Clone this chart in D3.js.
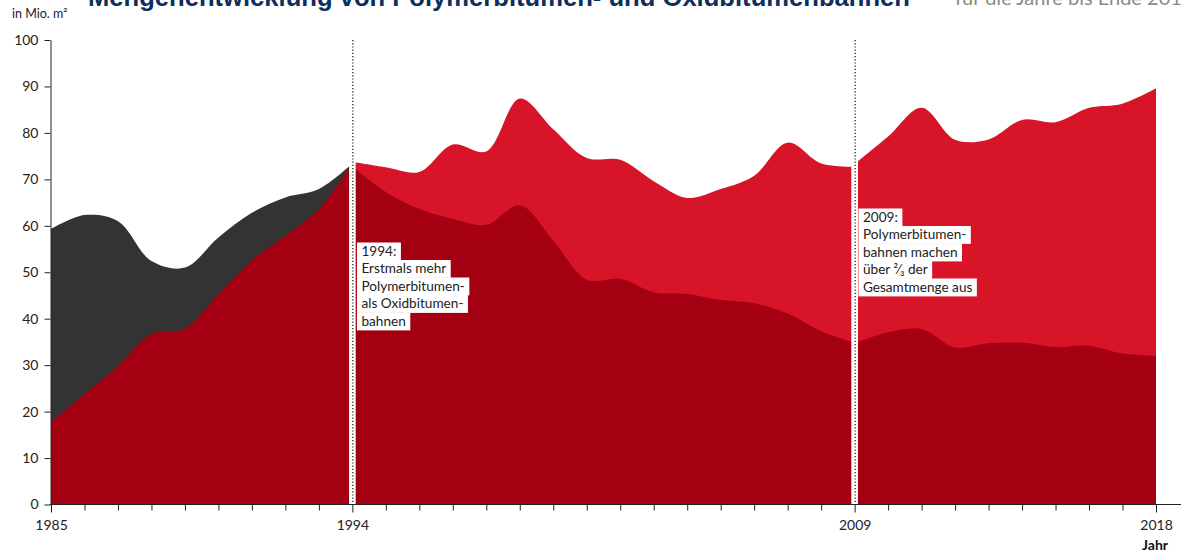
<!DOCTYPE html>
<html>
<head>
<meta charset="utf-8">
<script src="https://cdn.jsdelivr.net/npm/d3@7"></script>
<style>
  html, body { margin: 0; padding: 0; background: #fff; }
  svg { display: block; font-family: Lato, "Noto Sans", sans-serif; }
</style>
</head>
<body>
<svg id="chart" width="1181" height="550"></svg>
<script>
// Werte in Mio. m²
var jahreA   = [1985, 1986, 1987, 1988, 1989, 1990, 1991, 1992, 1993, 1994];
var gesamtA  = [59.3, 62.3, 61.0, 52.4, 51.0, 57.5, 62.8, 66.1, 67.9, 73.4];
var untenA   = [17.8, 23.7, 29.8, 36.7, 37.9, 45.3, 52.6, 57.8, 63.6, 73.4];

var jahreB   = [1994, 1995, 1996, 1997, 1998, 1999, 2000, 2001, 2002, 2003, 2004, 2005, 2006, 2007, 2008, 2009];
var gesamtB  = [73.8, 72.6, 71.6, 77.5, 76.0, 87.4, 80.8, 74.6, 74.2, 69.6, 66.0, 67.9, 70.8, 77.9, 73.4, 72.7];
var untenB   = [72.7, 67.3, 63.6, 61.5, 60.2, 64.4, 56.8, 48.4, 48.6, 45.7, 45.3, 44.0, 43.3, 41.1, 37.3, 34.8];

var jahreC   = [2009, 2010, 2011, 2012, 2013, 2014, 2015, 2016, 2017, 2018];
var gesamtC  = [73.3, 79.2, 85.4, 78.5, 78.6, 82.8, 82.3, 85.4, 86.3, 89.6];
var untenC   = [34.7, 37.1, 37.8, 33.8, 34.7, 34.8, 33.9, 34.2, 32.5, 32.0];

var yTicks   = [0, 10, 20, 30, 40, 50, 60, 70, 80, 90, 100];
var xTicks   = [1985, 1986, 1987, 1988, 1989, 1990, 1991, 1992, 1993, 1994, 1995, 1996,
                1997, 1998, 1999, 2000, 2001, 2002, 2003, 2004, 2005, 2006, 2007, 2008,
                2009, 2010, 2011, 2012, 2013, 2014, 2015, 2016, 2017, 2018];
var xLabels  = [1985, 1994, 2009, 2018];
var marken   = [1994, 2009];

var notiz1994 = ["1994:", "Erstmals mehr", "Polymerbitumen-", "als Oxidbitumen-", "bahnen"];
var notiz2009 = ["2009:", "Polymerbitumen-", "bahnen machen", "über ²⁄₃ der", "Gesamtmenge aus"];

var DARK = "#a50012", BRIGHT = "#d81428", GREY = "#333333";

var svg = d3.select("#chart");
var x = d3.scaleLinear().domain([1985, 2018]).range([51, 1156]);
var y = d3.scaleLinear().domain([0, 100]).range([504.5, 40]);
var curve = d3.curveCatmullRom.alpha(0.5);

function zip(jahre, werte) {
  return jahre.map(function(j, i) { return {jahr: j, wert: werte[i]}; });
}

var area = d3.area()
  .x(function(d) { return x(d.jahr); })
  .y0(y(0))
  .y1(function(d) { return y(d.wert); })
  .curve(curve);

var segmente = [
  {jahre: jahreA, oben: gesamtA, unten: untenA, farbe: GREY},
  {jahre: jahreB, oben: gesamtB, unten: untenB, farbe: BRIGHT},
  {jahre: jahreC, oben: gesamtC, unten: untenC, farbe: BRIGHT}
];

var plot = svg.append("g");
segmente.forEach(function(s) {
  plot.append("path").attr("d", area(zip(s.jahre, s.oben))).attr("fill", s.farbe);
  plot.append("path").attr("d", area(zip(s.jahre, s.unten))).attr("fill", DARK);
});

// weisse Trennfugen mit punktierter Linie
marken.forEach(function(j) {
  plot.append("rect")
    .attr("x", x(j) - 3.3).attr("y", y(100))
    .attr("width", 6.6).attr("height", y(0) - y(100))
    .attr("fill", "#fff");
  plot.append("line")
    .attr("x1", x(j) + 0.5).attr("x2", x(j) + 0.5)
    .attr("y1", y(100)).attr("y2", y(0))
    .attr("stroke", "#111").attr("stroke-width", 1.2)
    .attr("stroke-dasharray", "1.2,2");
});

// Achsen
var yAxis = svg.append("g")
  .attr("transform", "translate(50.5,0)")
  .call(d3.axisLeft(y).tickValues(yTicks).tickSize(6).tickPadding(6).tickSizeOuter(0));
yAxis.select(".domain").attr("stroke", "#222");
yAxis.selectAll(".tick line").attr("stroke", "#222");
yAxis.selectAll("text").attr("font-size", 14).attr("fill", "#222")
  .attr("font-family", "Lato, sans-serif");

var xAxis = svg.append("g")
  .attr("transform", "translate(0," + y(0) + ")")
  .call(d3.axisBottom(x).tickValues(xTicks).tickSize(6).tickPadding(10)
    .tickFormat(function(d) { return xLabels.indexOf(d) >= 0 ? d : ""; }));
xAxis.select(".domain").remove();
xAxis.selectAll(".tick line").attr("stroke", "#222")
  .attr("y2", function(d) { return xLabels.indexOf(d) >= 0 ? 8 : 6; });
xAxis.selectAll("text").attr("font-size", 14).attr("fill", "#222")
  .attr("font-family", "Lato, sans-serif");
xAxis.append("line")
  .attr("x1", 50).attr("x2", 1181).attr("y1", 0).attr("y2", 0)
  .attr("stroke", "#222");

svg.append("text")
  .attr("x", 1168).attr("y", 550).attr("text-anchor", "end")
  .attr("font-size", 14).attr("font-weight", "bold").attr("fill", "#111")
  .text("Jahr");

// Einheit und (abgeschnittener) Titel
svg.append("text")
  .attr("x", 12).attr("y", 18).attr("font-size", 12.5).attr("fill", "#222")
  .text("in Mio. m²");

svg.append("text")
  .attr("x", 88).attr("y", 6)
  .attr("font-family", "Liberation Sans, Arial, sans-serif")
  .attr("font-size", 25.6).attr("font-weight", "bold").attr("fill", "#0e2f5c")
  .text("Mengenentwicklung von Polymerbitumen- und Oxidbitumenbahnen");

svg.append("text")
  .attr("x", 955).attr("y", 5)
  .attr("font-size", 20).attr("fill", "#8a8a8a")
  .text("für die Jahre bis Ende 2018");

// Anmerkungen mit weissem Hintergrund je Zeile
function notiz(lines, x0, y0) {
  var g = svg.append("g").attr("transform", "translate(" + x0 + "," + y0 + ")");
  var lh = 17.5;
  lines.forEach(function(t, i) {
    var row = g.append("g").attr("transform", "translate(0," + (i * lh) + ")");
    var bg = row.append("rect").attr("fill", "#fff");
    var txt = row.append("text")
      .attr("x", 4.5).attr("y", 13.4)
      .attr("font-size", 13.6).attr("fill", "#222")
      .text(t);
    var w = txt.node().getComputedTextLength();
    bg.attr("x", 0).attr("y", 0).attr("width", w + 9).attr("height", lh + 0.4);
  });
}
notiz(notiz1994, x(1994) + 4.6, 242.5);
notiz(notiz2009, x(2009) + 3.8, 208.5);
</script>
</body>
</html>
